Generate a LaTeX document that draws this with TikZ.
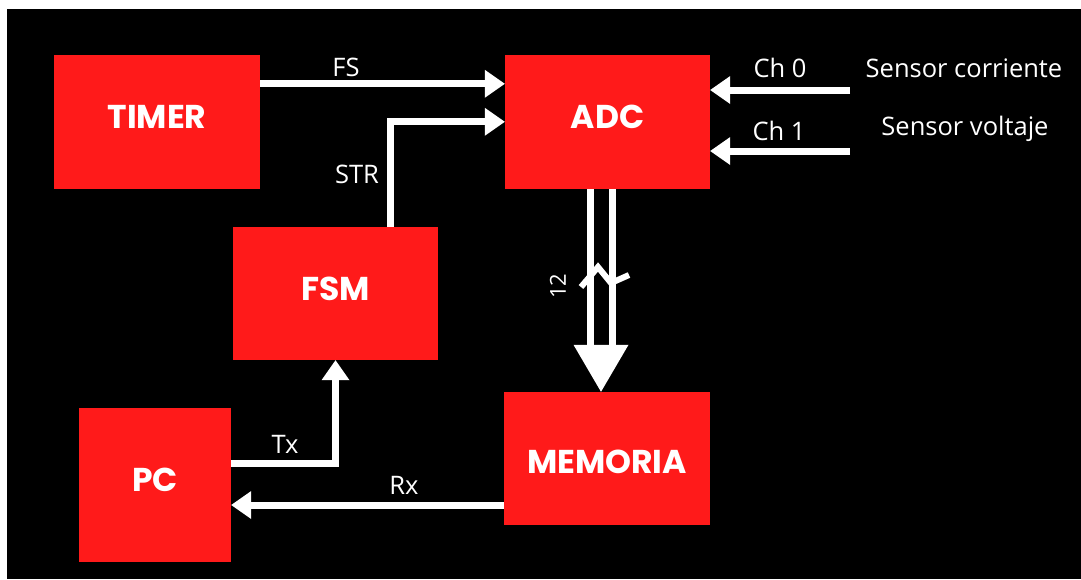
\documentclass[tikz,border=0pt]{standalone}
\usepackage{fontspec}
\setmainfont{Open Sans}
\newfontfamily\boxfont{Poppins}
\usetikzlibrary{arrows.meta,calc}
\definecolor{boxred}{RGB}{255,26,26}
\begin{document}
\begin{tikzpicture}[x=1pt,y=-1pt,
  blk/.style={fill=boxred, draw=none, inner sep=0pt, text=white,
    font=\boxfont\bfseries\fontsize{33}{33}\selectfont},
  wire/.style={draw=white, line width=7pt,
    -{Triangle[width=28pt,length=20pt,line width=0pt]}},
  plain/.style={draw=white, line width=7pt},
  lbl/.style={text=white, inner sep=0pt, anchor=base,
    font=\fontsize{25.5}{25.5}\selectfont}]
\useasboundingbox (0,0) rectangle (1081,579);
\fill[white] (0,0) rectangle (1081,579);
\fill[black] (7,9) rectangle (1081,579);

\node[blk, minimum width=206pt, minimum height=134pt, text depth=10pt] (timer) at (157,122) {TIMER};
\node[blk, minimum width=205pt, minimum height=134pt, text depth=10pt] (adc) at (607.5,122) {ADC};
\node[blk, minimum width=205pt, minimum height=133pt, text depth=9pt] (fsm) at (335.5,293.5) {FSM};
\node[blk, minimum width=152pt, minimum height=154pt, text depth=10pt] (pc) at (155,485) {PC};
\node[blk, minimum width=206pt, minimum height=133pt, text height=30pt] (mem) at (607,458.5) {MEMORIA};

% FS
\draw[wire] ($(timer.north east)+(0,29)$) -- ($(adc.north west)+(0,29)$);
\node[lbl] (lfs) at (346,76) {FS};
% STR
\draw[wire] ($(fsm.north)+(54.5,0)$) |- ($(adc.north west)+(0,67)$);
\node[lbl] (lstr) at (357,183) {STR};
% Ch 0 / Ch 1
\coordinate (s0) at (850,90);
\coordinate (s1) at (850,151);
\draw[wire] (s0) -- (s0 -| adc.east);
\draw[wire] (s1) -- (s1 -| adc.east);
\node[lbl] (lch0) at (780,77) {Ch 0};
\node[lbl] (lch1) at (779,140) {Ch 1};
\node[lbl] (lsc) at (964,77) {Sensor corriente};
\node[lbl] (lsv) at (965,135) {Sensor voltaje};

% bus ADC -> MEMORIA
\coordinate (bl) at ($(adc.south)+(-17.5,0)$);
\coordinate (br) at ($(adc.south)+(4.5,0)$);
\draw[plain] (bl) -- ($(bl)+(0,160)$);
\draw[plain] (br) -- ($(br)+(0,160)$);
\draw[white, line width=7pt, -{Triangle[width=55pt,length=47pt,line width=0pt]}]
  ($(mem.north)+(-6,-44)$) -- ($(mem.north)+(-6,0)$);
\draw[white, line width=6pt, line join=miter]
  (581,287) -- (598,267) -- (611,283) -- (629,275);
\node[text=white, rotate=90, inner sep=0pt, font=\fontsize{22}{22}\selectfont] (l12) at (558,286) {12};

% Tx
\draw[wire] ($(pc.east)+(0,-22)$) -| (fsm.south);
\node[lbl] (ltx) at (285,453) {Tx};
% Rx
\draw[wire] ($(mem.west)+(0,46.5)$) -- ($(pc.east)+(0,20)$);
\node[lbl] (lrx) at (404,494) {Rx};
\end{tikzpicture}
\end{document}
